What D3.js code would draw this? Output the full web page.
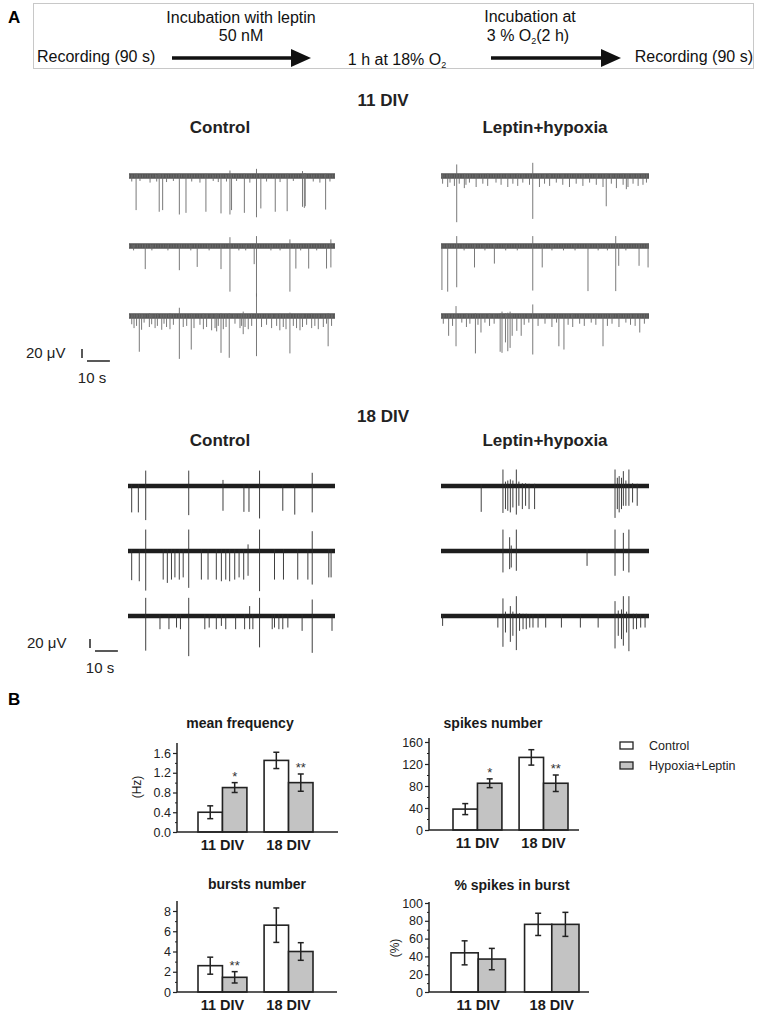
<!DOCTYPE html>
<html>
<head>
<meta charset="utf-8">
<script src="https://cdn.jsdelivr.net/npm/d3@7"></script>
<style>
  body { margin: 0; background: #fff; }
  svg { font-family: "Liberation Sans", Arial, sans-serif; }
</style>
</head>
<body>
<script>
// ---- data ----

// bar charts (group x series)
var groups = ["11 DIV", "18 DIV"];
var series = ["Control", "Hypoxia+Leptin"];

var freqMean = [[0.40, 0.90], [1.45, 1.00]];
var freqErr = [[0.13, 0.10], [0.165, 0.175]];
var freqStars = [["", "*"], ["", "**"]];

var spikesMean = [[38, 85], [132, 85]];
var spikesErr = [[10, 8], [14, 15]];
var spikesStars = [["", "*"], ["", "**"]];

var burstsMean = [[2.6, 1.45], [6.6, 4.0]];
var burstsErr = [[0.84, 0.56], [1.7, 0.87]];
var burstsStars = [["", "**"], ["", ""]];

var pctMean = [[44, 37], [76, 76]];
var pctErr = [[13.5, 12], [12.5, 13.5]];
var pctStars = [["", ""], ["", ""]];

var freqTicks = [0, 0.4, 0.8, 1.2, 1.6];
var spikesTicks = [0, 40, 80, 120, 160];
var burstsTicks = [0, 2, 4, 6, 8];
var pctTicks = [0, 20, 40, 60, 80, 100];

// traces: [time (s), downward amplitude (uV), upward amplitude (uV)]
var ctrl11_r1 = [[1.2,10,2],[3.1,62,4],[4.8,9,2],[9.2,12,2],[12.1,10,2],[13.2,65,4],[14.7,62,3],[16.4,11,2],[19.4,9,2],[22,70,4],[24.9,67,3],[27.4,10,2],[31,12,2],[33.6,65,4],[36.8,9,2],[39,11,2],[40.2,68,3],[42.6,10,2],[44.1,70,10],[44.8,62,3],[47,9,2],[50.4,67,4],[52.8,12,2],[55.7,75,13],[57.6,59,3],[60.1,10,2],[63.9,65,3],[66,11,2],[69.1,64,4],[71.8,9,2],[75.8,56,9],[76.6,58,5],[77,55,5],[80.5,10,2],[83.4,12,2],[85.9,61,4],[87.8,10,2]];
var ctrl11_r2 = [[2,8,2],[7.1,42,3],[10,8,2],[17,8,2],[22,44,3],[27,8,2],[29.8,38,3],[35,8,2],[40.2,42,3],[44.1,83,16],[48,8,2],[51,8,2],[54.7,33,3],[55.7,92,18],[62,8,2],[66,8,2],[70.3,83,12],[72.9,41,3],[75,8,2],[78.5,41,3],[82,8,2],[86.3,41,3],[88.2,39,12]];
var ctrl11_r3 = [[1.2,15,3],[2.2,22,4],[3.3,18,3],[4.5,65,4],[5.5,25,3],[6.6,12,3],[8.9,20,5],[9.9,15,3],[11.4,22,3],[12.4,18,4],[14.3,25,3],[15.3,14,3],[16.4,20,3],[17.9,24,5],[19.4,16,3],[22,78,15],[23.7,20,3],[25.2,18,3],[27.2,61,4],[28.4,22,3],[31,16,3],[32.5,24,4],[33.9,20,3],[36.1,26,3],[37.6,22,3],[38.3,28,4],[39,18,3],[40.2,67,5],[41.2,24,3],[42.4,20,4],[43.8,76,5],[46.3,14,3],[48.5,22,3],[49.2,18,3],[49.9,33,8],[50.7,20,3],[52.1,24,3],[53.6,18,4],[55.7,73,41],[57.9,20,3],[60.1,16,3],[62.3,22,3],[64.5,18,3],[65.9,26,4],[67.4,20,3],[68.6,24,3],[70.3,68,6],[71.8,18,3],[73.2,22,3],[74.7,26,3],[75.8,20,3],[77.6,16,3],[79.8,22,4],[81.2,18,3],[82.7,24,3],[84.9,20,3],[86.3,14,3],[87,55,5],[88.5,18,3]];

var lep11_r1 = [[0.7,14,4],[2.9,20,3],[3.9,12,3],[5.8,18,3],[6.8,84,21],[7.9,14,3],[10.1,22,4],[10.8,16,3],[12.3,12,3],[15.2,20,3],[18.1,14,3],[20.2,18,4],[23.8,12,3],[26,16,3],[28.9,20,3],[31.1,14,3],[33.2,18,4],[35.4,12,3],[38.3,16,3],[39.7,78,24],[42.6,20,3],[44.8,14,3],[47,18,4],[49.9,12,3],[52.7,16,3],[55.6,20,3],[58.5,14,3],[61.4,18,3],[64.3,12,4],[67.2,16,3],[70.1,20,3],[71.5,55,4],[73.7,14,3],[75.9,22,3],[78.8,16,4],[80.2,24,3],[80.9,20,3],[83.1,14,3],[85.3,18,3],[87.4,16,4],[88.9,12,3]];
var lep11_r2 = [[0.4,80,3],[2.9,83,3],[6.8,75,18],[10,8,2],[14.5,39,3],[19,8,2],[23.1,32,3],[28,8,2],[33,8,2],[39.7,81,18],[43.8,39,4],[48,8,2],[53,8,2],[58,8,2],[63.6,82,3],[68,8,2],[72,8,2],[75.6,82,18],[76.9,36,3],[80,8,2],[85.7,36,3],[89.6,39,4]];
var lep11_r3 = [[1,14,3],[3.3,36,3],[5,18,3],[6.5,55,18],[9,12,3],[11,20,4],[12.5,14,3],[14.9,68,5],[16,16,3],[17.3,30,3],[19,12,3],[21,18,4],[23,14,3],[25.6,65,5],[26.4,67,8],[27.9,48,5],[28.9,64,6],[29.9,58,8],[30.8,36,4],[32.8,27,3],[34.7,36,3],[36,16,3],[38,12,3],[39.7,70,21],[42,18,3],[45,14,4],[48,20,3],[50,12,3],[51,55,3],[53.2,61,3],[55,16,3],[57,20,4],[60,14,3],[62,18,3],[65,12,3],[67,16,4],[70.1,55,3],[72,18,3],[74,14,3],[77,20,4],[80,12,3],[82,16,3],[84,18,3],[86,30,3],[88,14,3]];

var ctrl18_r1 = [[1.6,48,3],[4.5,48,3],[7.7,62,28],[26.4,53,28],[41.3,45,11],[50.4,47,3],[52.6,47,3],[57.2,59,28],[67.3,45,3],[72.5,52,3],[80.1,48,24]];
var ctrl18_r2 = [[1.6,53,3],[4.9,55,3],[7.7,72,39],[15.3,52,3],[17.1,58,3],[18.9,52,3],[20.4,48,3],[22.3,52,3],[24,48,3],[26.4,67,39],[31.9,52,3],[34.8,52,3],[38.4,52,3],[40.6,55,3],[42.5,52,3],[44.2,55,3],[46.4,52,3],[48.3,48,3],[50.3,52,3],[52.2,45,12],[57.2,73,39],[63.7,52,3],[67.6,52,3],[73.8,52,3],[78.2,52,3],[80.1,61,36],[87.3,48,3],[88.3,48,3]];
var ctrl18_r3 = [[7.7,63,33],[13.9,24,3],[17.8,24,3],[21.1,21,3],[22.8,24,3],[26.4,73,33],[33.4,24,3],[35.3,21,3],[38.4,24,3],[40.6,18,3],[42.5,24,3],[46.8,24,3],[50.7,24,3],[52.9,24,18],[54.3,24,3],[57.2,57,33],[62.7,24,3],[63.7,21,3],[65.6,24,3],[67.3,24,3],[69.5,21,3],[75.7,27,3],[80.1,67,30],[88.7,27,3]];

var lep18_r1 = [[17.4,47,3],[26.8,49,30],[27.9,42,8],[28.9,45,10],[30,48,12],[31.1,39,10],[32.6,52,30],[33.7,36,8],[35.2,42,5],[36.6,36,5],[38.1,42,4],[40.5,42,4],[75.3,58,30],[76.3,42,15],[77.1,48,18],[78.1,42,15],[78.9,36,27],[80,36,10],[81.3,36,30],[82.9,30,5],[84.9,36,4]];
var lep18_r2 = [[26.8,39,39],[29.7,33,25],[30.4,30,10],[32.6,36,39],[63.2,27,3],[75.3,45,39],[78.9,36,33],[81.3,39,39]];
var lep18_r3 = [[0.7,18,3],[24.6,21,3],[26.8,56,32],[27.9,30,8],[30,47,18],[31.1,36,8],[32.6,62,36],[34,27,5],[35.5,24,4],[36.9,24,4],[38.4,21,3],[39.8,21,3],[42,21,3],[45.3,21,3],[52.1,21,3],[60.3,21,3],[68,21,3],[75.3,59,27],[76.7,36,10],[78.1,42,12],[78.9,54,36],[80.3,30,8],[81.3,64,36],[83.2,24,4],[84.6,24,4],[86.4,21,3],[88.3,21,3]];

// ---- drawing ----

var width = 759;
var height = 1014;

var svg = d3.select("body").append("svg")
  .attr("width", width)
  .attr("height", height);

// panel A header box
var head = svg.append("g");
head.append("text").attr("x", 8).attr("y", 23)
  .attr("font-size", 17).attr("font-weight", "bold").text("A");
head.append("rect").attr("x", 33.5).attr("y", 3.5).attr("width", 720).attr("height", 65)
  .attr("fill", "none").attr("stroke", "#c8c8c8").attr("stroke-width", 1);

function headText(x, y, txt, anchor) {
  return head.append("text").attr("x", x).attr("y", y)
    .attr("font-size", 16).attr("text-anchor", anchor || "middle").attr("fill", "#111").text(txt);
}
headText(241, 23, "Incubation with leptin");
headText(241, 41, "50 nM");
headText(37, 62, "Recording (90 s)", "start");
headText(753, 62, "Recording (90 s)", "end");
headText(530, 22, "Incubation at");
var o2a = headText(528, 41, "3 % O");
o2a.append("tspan").attr("font-size", 9).attr("dy", 3).text("2");
o2a.append("tspan").attr("dy", -3).text("(2 h)");
var o2b = headText(397, 65, "1 h at 18% O");
o2b.append("tspan").attr("font-size", 9).attr("dy", 3).text("2");

function arrow(xa, xb, y) {
  head.append("line").attr("x1", xa).attr("x2", xb - 14).attr("y1", y).attr("y2", y)
    .attr("stroke", "#111").attr("stroke-width", 3.5);
  head.append("path")
    .attr("d", "M" + (xb - 20) + "," + (y - 9) + "L" + xb + "," + y + "L" + (xb - 20) + "," + (y + 9) + "Z")
    .attr("fill", "#111");
}
arrow(172, 311, 58);
arrow(491, 621, 58);

// section titles
function boldText(x, y, txt, size) {
  svg.append("text").attr("x", x).attr("y", y).attr("text-anchor", "middle")
    .attr("font-size", size).attr("font-weight", "bold").attr("fill", "#222").text(txt);
}
boldText(383, 106, "11 DIV", 17);
boldText(220, 133, "Control", 17);
boldText(545, 133, "Leptin+hypoxia", 17);
boldText(383, 422, "18 DIV", 17);
boldText(220, 446, "Control", 17);
boldText(545, 446, "Leptin+hypoxia", 17);

// traces
var ampK = 0.55; // px per uV

function drawTrace(spikes, x0, x1, yBase, dark) {
  var xs = d3.scaleLinear().domain([0, 90]).range([x0, x1]);
  var ys = d3.scaleLinear().domain([-100, 100]).range([yBase + 100 * ampK, yBase - 100 * ampK]);
  var g = svg.append("g");
  g.append("line")
    .attr("x1", xs(0)).attr("x2", xs(90)).attr("y1", ys(0)).attr("y2", ys(0))
    .attr("stroke", dark ? "#1e1e1e" : "#555").attr("stroke-width", dark ? 4.5 : 5.5);
  if (!dark) {
    g.append("line")
      .attr("x1", xs(0)).attr("x2", xs(90)).attr("y1", ys(0)).attr("y2", ys(0))
      .attr("stroke", "#6c6c6c").attr("stroke-width", 3)
      .attr("stroke-dasharray", "1 1.6");
  }
  g.selectAll("line.sp")
    .data(spikes)
    .enter().append("line")
      .attr("class", "sp")
      .attr("x1", function(d) { return xs(d[0]); })
      .attr("x2", function(d) { return xs(d[0]); })
      .attr("y1", function(d) { return ys(d[2]); })
      .attr("y2", function(d) { return ys(-d[1]); })
      .attr("stroke", dark ? "#2a2a2a" : "#6a6a6a")
      .attr("stroke-width", 0.9);
  return xs;
}

var rows11 = [176, 246, 316];
var rows18 = [486, 551, 616];
var xsRef = drawTrace(ctrl11_r1, 129, 335, rows11[0], false);
drawTrace(ctrl11_r2, 129, 335, rows11[1], false);
drawTrace(ctrl11_r3, 129, 335, rows11[2], false);
drawTrace(lep11_r1, 441, 649, rows11[0], false);
drawTrace(lep11_r2, 441, 649, rows11[1], false);
drawTrace(lep11_r3, 441, 649, rows11[2], false);
drawTrace(ctrl18_r1, 128, 335, rows18[0], true);
drawTrace(ctrl18_r2, 128, 335, rows18[1], true);
drawTrace(ctrl18_r3, 128, 335, rows18[2], true);
drawTrace(lep18_r1, 441, 649, rows18[0], true);
drawTrace(lep18_r2, 441, 649, rows18[1], true);
drawTrace(lep18_r3, 441, 649, rows18[2], true);

// scale bars (20 uV, 10 s)
function scaleBar(xv, yBottom, xText) {
  var barH = 20 * ampK;
  var barW = xsRef(10) - xsRef(0);
  svg.append("line").attr("x1", xv).attr("x2", xv).attr("y1", yBottom - barH - 1).attr("y2", yBottom - 3)
    .attr("stroke", "#222").attr("stroke-width", 1.5);
  svg.append("line").attr("x1", xv + 5).attr("x2", xv + 5 + barW).attr("y1", yBottom).attr("y2", yBottom)
    .attr("stroke", "#222").attr("stroke-width", 1.5);
  svg.append("text").attr("x", xText).attr("y", yBottom - 3).attr("font-size", 15).attr("fill", "#222")
    .text("20 \u03BCV");
  svg.append("text").attr("x", xv + 10).attr("y", yBottom + 22).attr("font-size", 15)
    .attr("text-anchor", "middle").attr("fill", "#222").text("10 s");
}
scaleBar(82, 361, 26);
scaleBar(90, 651, 27);

// panel B
svg.append("text").attr("x", 8).attr("y", 705)
  .attr("font-size", 17).attr("font-weight", "bold").text("B");

function barChart(cfg) {
  var g = svg.append("g");
  var x0 = d3.scaleBand().domain(groups).range([cfg.bx0, cfg.bx1]).paddingInner(0.26);
  var x1 = d3.scaleBand().domain(series).range([0, x0.bandwidth()]);
  var y = d3.scaleLinear().domain([0, cfg.max]).range([cfg.y0, cfg.yMax]);

  // title
  g.append("text").attr("x", cfg.tx).attr("y", cfg.ty).attr("text-anchor", "middle")
    .attr("font-size", 14).attr("font-weight", "bold").attr("fill", "#1a1a1a").text(cfg.title);

  // minor ticks
  g.append("g").attr("transform", "translate(" + cfg.ax + ",0)")
    .call(d3.axisLeft(y).tickValues(cfg.minor).tickSize(2).tickFormat(""))
    .call(function(s) { s.select(".domain").remove(); s.selectAll("line").attr("stroke", "#222"); });
  // major ticks
  g.append("g").attr("transform", "translate(" + cfg.ax + ",0)")
    .call(d3.axisLeft(y).tickValues(cfg.ticks).tickSize(4).tickPadding(2).tickFormat(cfg.fmt))
    .call(function(s) {
      s.select(".domain").remove();
      s.selectAll("line").attr("stroke", "#222").attr("stroke-width", 1.2);
      s.selectAll("text").attr("font-size", 12.5).attr("fill", "#222")
        .attr("font-family", "Liberation Sans, Arial, sans-serif");
    });

  // bars
  var flat = [];
  groups.forEach(function(gr, i) {
    series.forEach(function(se, j) {
      flat.push({ g: gr, s: se, j: j, v: cfg.mean[i][j], e: cfg.err[i][j], star: cfg.stars[i][j] });
    });
  });
  g.selectAll("rect.bar").data(flat).enter().append("rect")
    .attr("class", "bar")
    .attr("x", function(d) { return x0(d.g) + x1(d.s); })
    .attr("y", function(d) { return y(d.v); })
    .attr("width", x1.bandwidth())
    .attr("height", function(d) { return y(0) - y(d.v); })
    .attr("fill", function(d) { return d.j === 0 ? "#fff" : "#c3c3c3"; })
    .attr("stroke", "#222").attr("stroke-width", 1.6);

  // error bars
  var eb = g.selectAll("g.err").data(flat).enter().append("g").attr("class", "err")
    .attr("transform", function(d) { return "translate(" + (x0(d.g) + x1(d.s) + x1.bandwidth() / 2) + ",0)"; });
  eb.append("line").attr("x1", 0).attr("x2", 0)
    .attr("y1", function(d) { return y(d.v + d.e); })
    .attr("y2", function(d) { return y(d.v - d.e); })
    .attr("stroke", "#222").attr("stroke-width", 1.5);
  eb.append("line").attr("x1", -3).attr("x2", 3)
    .attr("y1", function(d) { return y(d.v + d.e); }).attr("y2", function(d) { return y(d.v + d.e); })
    .attr("stroke", "#222").attr("stroke-width", 1.5);
  eb.append("line").attr("x1", -3).attr("x2", 3)
    .attr("y1", function(d) { return y(d.v - d.e); }).attr("y2", function(d) { return y(d.v - d.e); })
    .attr("stroke", "#222").attr("stroke-width", 1.5);
  eb.append("text").attr("text-anchor", "middle")
    .attr("y", function(d) { return y(d.v + d.e) + 2; })
    .attr("font-size", 13).attr("fill", "#333").attr("dy", "-0.3em")
    .text(function(d) { return d.star; });

  // axes lines
  g.append("line").attr("x1", cfg.ax).attr("x2", cfg.ax).attr("y1", cfg.yTop).attr("y2", cfg.y0)
    .attr("stroke", "#222").attr("stroke-width", 1.5);
  g.append("line").attr("x1", cfg.ax).attr("x2", cfg.axEnd).attr("y1", cfg.y0).attr("y2", cfg.y0)
    .attr("stroke", "#222").attr("stroke-width", 1.5);

  // group labels
  g.selectAll("text.grp").data(groups).enter().append("text")
    .attr("class", "grp")
    .attr("x", function(d) { return x0(d) + x0.bandwidth() / 2; })
    .attr("y", cfg.y0 + 18)
    .attr("text-anchor", "middle").attr("font-size", 14.5).attr("font-weight", "bold").attr("fill", "#1a1a1a")
    .text(function(d) { return d; });

  if (cfg.ylab) {
    g.append("text")
      .attr("transform", "translate(" + cfg.ylx + "," + cfg.yly + ") rotate(-90)")
      .attr("text-anchor", "middle").attr("dy", "0.35em").attr("font-size", 12).attr("fill", "#222")
      .text(cfg.ylab);
  }
}

barChart({ title: "mean frequency", tx: 240, ty: 728, mean: freqMean, err: freqErr, stars: freqStars,
  max: 1.6, ticks: freqTicks, minor: [0.2, 0.6, 1.0, 1.4], fmt: d3.format(".1f"),
  ax: 177, axEnd: 338, bx0: 198, bx1: 313, y0: 832, yMax: 753, yTop: 743, ylab: "(Hz)", ylx: 137, yly: 787 });

barChart({ title: "spikes number", tx: 493, ty: 728, mean: spikesMean, err: spikesErr, stars: spikesStars,
  max: 160, ticks: spikesTicks, minor: [20, 60, 100, 140], fmt: d3.format("d"),
  ax: 429, axEnd: 579, bx0: 453, bx1: 568, y0: 830, yMax: 742, yTop: 738 });

barChart({ title: "bursts number", tx: 257, ty: 889, mean: burstsMean, err: burstsErr, stars: burstsStars,
  max: 8, ticks: burstsTicks, minor: [1, 3, 5, 7], fmt: d3.format("d"),
  ax: 177, axEnd: 337, bx0: 198, bx1: 313, y0: 992, yMax: 911, yTop: 901 });

barChart({ title: "% spikes in burst", tx: 512, ty: 890, mean: pctMean, err: pctErr, stars: pctStars,
  max: 100, ticks: pctTicks, minor: [10, 30, 50, 70, 90], fmt: d3.format("d"),
  ax: 429, axEnd: 589, bx0: 451, bx1: 579, y0: 992, yMax: 903, yTop: 902, ylab: "(%)", ylx: 395, yly: 948 });

// legend
var leg = svg.append("g");
leg.selectAll("rect").data(series).enter().append("rect")
  .attr("x", 620).attr("y", function(d, i) { return 742 + i * 20; })
  .attr("width", 13).attr("height", 7)
  .attr("fill", function(d, i) { return i === 0 ? "#fff" : "#c3c3c3"; })
  .attr("stroke", "#222").attr("stroke-width", 1.3);
leg.selectAll("text").data(series).enter().append("text")
  .attr("x", 649).attr("y", function(d, i) { return 750 + i * 20; })
  .attr("font-size", 12.5).attr("fill", "#222")
  .text(function(d) { return d; });
</script>
</body>
</html>
